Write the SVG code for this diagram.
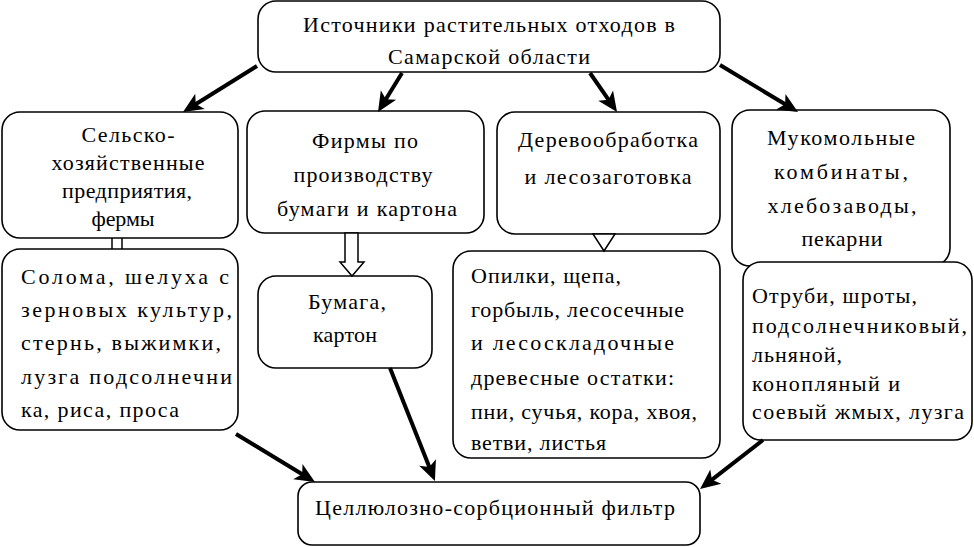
<svg xmlns="http://www.w3.org/2000/svg" width="974" height="547" viewBox="0 0 974 547">
<defs>
<style>
.box{fill:#fff;stroke:#000;stroke-width:1.6}
.t{font-family:"Liberation Serif","Times New Roman",serif;font-size:22px;fill:#000}
.c{text-anchor:middle}
.conn{stroke:#000;stroke-width:4;fill:none}
.thin{stroke:#000;stroke-width:1.5;fill:#fff}
</style>
<marker id="ah" viewBox="-10 -10 24 20" refX="0" refY="0" markerWidth="24" markerHeight="20" markerUnits="userSpaceOnUse" orient="auto">
<path d="M12,0 L-8,-9 L-3,0 L-8,9 Z" fill="#000"/>
</marker>
</defs>
<rect width="974" height="547" fill="#fff"/>

<g id="node-top">
<rect class="box" x="258" y="1" width="462" height="71" rx="18"/>
<text class="t c" x="489" y="32" textLength="372" lengthAdjust="spacing">Источники растительных отходов в</text>
<text class="t c" x="489" y="64" textLength="202" lengthAdjust="spacing">Самарской области</text>
</g>

<g id="node-agri">
<rect class="box" x="2" y="112" width="236" height="126" rx="18"/>
<text class="t c" x="128" y="142" textLength="93" lengthAdjust="spacing">Сельско-</text>
<text class="t c" x="128" y="170" textLength="153" lengthAdjust="spacing">хозяйственные</text>
<text class="t c" x="127" y="198" textLength="130" lengthAdjust="spacing">предприятия,</text>
<text class="t c" x="123" y="226" textLength="63" lengthAdjust="spacing">фермы</text>
</g>

<g id="node-paper">
<rect class="box" x="247" y="111" width="237" height="122" rx="18"/>
<text class="t c" x="365" y="148" textLength="106" lengthAdjust="spacing">Фирмы по</text>
<text class="t c" x="363" y="182" textLength="139" lengthAdjust="spacing">производству</text>
<text class="t c" x="367" y="216" textLength="180" lengthAdjust="spacing">бумаги и картона</text>
</g>

<g id="node-wood">
<rect class="box" x="497" y="112" width="223" height="122" rx="18"/>
<text class="t c" x="608" y="147" textLength="180" lengthAdjust="spacing">Деревообработка</text>
<text class="t c" x="608" y="184" textLength="167" lengthAdjust="spacing">и лесозаготовка</text>
</g>

<g id="node-mill">
<rect class="box" x="732" y="110" width="218" height="156" rx="18"/>
<text class="t c" x="841" y="145" textLength="148" lengthAdjust="spacing">Мукомольные</text>
<text class="t c" x="841" y="179" textLength="134" lengthAdjust="spacing">комбинаты,</text>
<text class="t c" x="842" y="213" textLength="149" lengthAdjust="spacing">хлебозаводы,</text>
<text class="t c" x="842" y="246" textLength="81" lengthAdjust="spacing">пекарни</text>
</g>

<g id="node-straw">
<rect class="box" x="2" y="249" width="236" height="181" rx="18"/>
<text class="t" x="21" y="284" textLength="208" lengthAdjust="spacing">Солома, шелуха с</text>
<text class="t" x="21" y="317" textLength="211" lengthAdjust="spacing">зерновых культур,</text>
<text class="t" x="21" y="350" textLength="200" lengthAdjust="spacing">стернь, выжимки,</text>
<text class="t" x="21" y="384" textLength="211" lengthAdjust="spacing">лузга подсолнечни</text>
<text class="t" x="21" y="417" textLength="158" lengthAdjust="spacing">ка, риса, проса</text>
</g>

<g id="node-cardboard">
<rect class="box" x="258" y="276" width="174" height="92" rx="18"/>
<text class="t c" x="347" y="309" textLength="78" lengthAdjust="spacing">Бумага,</text>
<text class="t c" x="345" y="342" textLength="64" lengthAdjust="spacing">картон</text>
</g>

<g id="node-sawdust">
<rect class="box" x="453" y="251" width="267" height="207" rx="18"/>
<text class="t" x="471" y="283" textLength="150" lengthAdjust="spacing">Опилки, щепа,</text>
<text class="t" x="471" y="317" textLength="213" lengthAdjust="spacing">горбыль, лесосечные</text>
<text class="t" x="471" y="350" textLength="203" lengthAdjust="spacing">и лесоскладочные</text>
<text class="t" x="471" y="385" textLength="203" lengthAdjust="spacing">древесные остатки:</text>
<text class="t" x="471" y="419" textLength="226" lengthAdjust="spacing">пни, сучья, кора, хвоя,</text>
<text class="t" x="471" y="450" textLength="135" lengthAdjust="spacing">ветви, листья</text>
</g>

<g id="node-bran">
<rect class="box" x="743" y="262" width="229" height="178" rx="18"/>
<text class="t" x="752" y="303" textLength="165" lengthAdjust="spacing">Отруби, шроты,</text>
<text class="t" x="752" y="333" textLength="215" lengthAdjust="spacing">подсолнечниковый,</text>
<text class="t" x="752" y="362" textLength="90" lengthAdjust="spacing">льняной,</text>
<text class="t" x="752" y="391" textLength="148" lengthAdjust="spacing">конопляный и</text>
<text class="t" x="752" y="419" textLength="212" lengthAdjust="spacing">соевый жмых, лузга</text>
</g>

<g id="node-filter">
<rect class="box" x="298" y="482" width="402" height="63" rx="14"/>
<text class="t c" x="495" y="515" textLength="360" lengthAdjust="spacing">Целлюлозно-сорбционный фильтр</text>
</g>

<g id="connectors">
<line class="conn" x1="257" y1="66" x2="193.2" y2="105.7" marker-end="url(#ah)"/>
<line class="conn" x1="402" y1="73" x2="384.3" y2="101.8" marker-end="url(#ah)"/>
<line class="conn" x1="590" y1="73" x2="610.2" y2="102.1" marker-end="url(#ah)"/>
<line class="conn" x1="720" y1="65" x2="787.7" y2="105.8" marker-end="url(#ah)"/>
<line class="conn" x1="236" y1="434" x2="304.7" y2="475.8" marker-end="url(#ah)"/>
<line class="conn" x1="390" y1="368" x2="430.5" y2="469.9" marker-end="url(#ah)"/>
<line class="conn" x1="763" y1="440" x2="709.5" y2="481.6" marker-end="url(#ah)"/>
<line x1="112" y1="238" x2="112" y2="249" stroke="#000" stroke-width="1.5"/>
<line x1="122" y1="238" x2="122" y2="249" stroke="#000" stroke-width="1.5"/>
<polygon class="thin" points="345,233 345,262 340,262 352,276 364,262 358,262 358,233"/>
<polygon class="thin" points="593,234 615,234 604,251"/>
</g>
</svg>
